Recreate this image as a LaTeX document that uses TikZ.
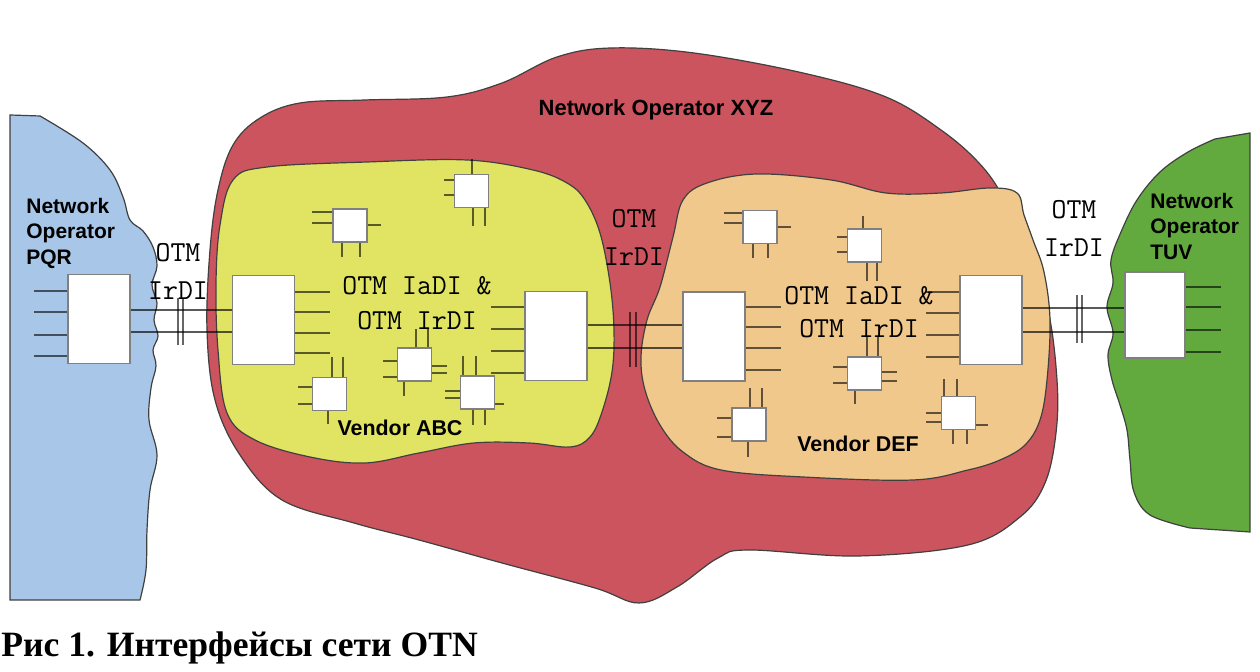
\documentclass[tikz,border=0pt]{standalone}
\usepackage{fontspec}
\setmainfont{Liberation Serif}
\setsansfont{Liberation Sans}
\definecolor{blueC}{RGB}{168,198,232}
\definecolor{redC}{RGB}{204,84,94}
\definecolor{yellowC}{RGB}{224,228,98}
\definecolor{peachC}{RGB}{240,200,140}
\definecolor{greenC}{RGB}{98,170,62}
\begin{document}
\begin{tikzpicture}[x=0.5pt,y=-0.5pt,
  cloudline/.style={draw=black!75, line width=0.6pt},
  bigbox/.style={draw=black!50, fill=white, line width=0.7pt, minimum width=31pt, minimum height=44.5pt, inner sep=0pt},
  chip/.style={draw=black!50, fill=white, line width=0.7pt, minimum width=17pt, minimum height=16.5pt, inner sep=0pt},
  pin/.style={draw=black, draw opacity=0.6, line width=1.1pt},
  link/.style={draw=black, draw opacity=0.65, line width=0.8pt},
  tickmark/.style={draw=black, draw opacity=0.6, line width=0.6pt},
  lbl/.style={font=\sffamily\bfseries\fontsize{10.5}{12.6}\selectfont, align=left, inner sep=0pt},
  vlbl/.style={font=\sffamily\bfseries\fontsize{10.7}{12.5}\selectfont, inner sep=0pt},
  mono/.style={font=\ttfamily\fontsize{14.5}{19}\selectfont, align=center, inner sep=0pt}
]
\useasboundingbox[fill=white] (0,0) rectangle (1260,672);

% ---------- clouds ----------
\path[fill=redC, cloudline] plot[smooth cycle, tension=0.6] coordinates {
 (207,330) (210,250) (218,190) (233,145) (260,118) (300,103) (365,100) (447,97)
 (502,83) (557,57) (611,48) (694,53) (803,73) (886,97) (941,130) (979,163)
 (1003,197) (1027,250) (1048,310) (1057,380) (1056,433) (1045,483) (1020,517)
 (968,545) (858,556) (749,550) (718,558) (677,587) (639,603) (595,588) (502,563)
 (419,540) (354,523) (282,500) (240,455) (215,400)};

\path[fill=yellowC, cloudline] plot[smooth cycle, tension=0.6] coordinates {
 (233,180) (267,167) (367,162) (467,160) (533,170) (567,183) (585,200) (600,233)
 (610,283) (614,330) (612,372) (602,412) (590,437) (570,447) (529,443) (474,443)
 (419,453) (365,463) (310,457) (255,440) (227,413) (218,350) (216,283) (220,225)};

\path[fill=peachC, cloudline] plot[smooth cycle, tension=0.6] coordinates {
 (683,200) (707,183) (757,174) (831,180) (886,193) (941,193) (990,188) (1017,193)
 (1024,215) (1033,240) (1044,272) (1050,320) (1047,380) (1040,420) (1025,445)
 (1000,460) (968,470) (913,480) (803,477) (721,470) (683,452) (660,425) (645,390)
 (641,357) (647,320) (660,287) (673,237)};

\path[fill=blueC, cloudline] (10,115) -- plot[smooth, tension=0.6] coordinates {
 (40,116) (83,143) (110,170) (123,197) (130,220) (143,231) (153,247) (157,266)
 (152,285) (157,303) (154,320) (158,336) (153,350) (156,366) (151,388) (149,420)
 (157,455) (150,490) (147,530) (146,570) (140,600)} -- (10,600) -- cycle;

\path[fill=greenC, cloudline] (1250,133) -- plot[smooth, tension=0.6] coordinates {
 (1215,139) (1188,152) (1160,172) (1137,200) (1121,232) (1111,260) (1113,283)
 (1107,307) (1113,333) (1108,355) (1112,380) (1120,405) (1127,430) (1130,460)
 (1134,492) (1150,515) (1190,528)} -- (1250,532) -- cycle;

% ---------- cloud labels ----------
\node[font=\sffamily\bfseries\fontsize{11}{13}\selectfont, inner sep=0pt] (xyz) at (656,110) {Network Operator XYZ};
\node[lbl, anchor=north west] (pqrlbl) at (26,198) {Network\\Operator\\PQR};
\node[lbl, anchor=north west] (tuvlbl) at (1150,193) {Network\\Operator\\TUV};
\node[vlbl] (abclbl) at (400,428) {Vendor ABC};
\node[vlbl] (deflbl) at (858,444) {Vendor DEF};

% ---------- big boxes ----------
\node[bigbox] (pqr) at (99,319) {};
\node[bigbox] (abcL) at (263.5,320) {};
\node[bigbox] (abcR) at (556,336) {};
\node[bigbox] (defL) at (714,336.5) {};
\node[bigbox] (defR) at (991,320) {};
\node[bigbox, minimum width=30pt, minimum height=43pt] (tuv) at (1155,315) {};

% ---------- small boxes ----------
\node[chip] (a1) at (471.5,191) {};
\node[chip] (a2) at (350,225.5) {};
\node[chip] (a3) at (414.5,364.5) {};
\node[chip] (a4) at (329.5,394) {};
\node[chip] (a5) at (477.5,392.5) {};
\node[chip] (d1) at (760,227) {};
\node[chip] (d2) at (864.5,245.5) {};
\node[chip] (d3) at (864.5,373.5) {};
\node[chip] (d4) at (749,424.5) {};
\node[chip] (d5) at (958.5,413) {};

% ---------- stubs of big boxes ----------
\foreach \y in {291,312,335,356} \draw[pin] (pqr.west |- 0,\y) -- ++(-33,0);
\foreach \y in {292,312,333,353} \draw[pin] (abcL.east |- 0,\y) -- ++(35,0);
\foreach \y in {307,329,351,373} \draw[pin] (abcR.west |- 0,\y) -- ++(-33,0);
\foreach \y in {307,327,348,370} \draw[pin] (defL.east |- 0,\y) -- ++(35,0);
\foreach \y in {292,313,335,357} \draw[pin] (defR.west |- 0,\y) -- ++(-33,0);
\foreach \y in {287,307,330,352} \draw[pin] (tuv.east |- 0,\y) -- ++(35,0);

% ---------- pins of small boxes ----------
% a1
\draw[pin] (a1.north -| 472,0) -- ++(0,-15);
\foreach \y in {180,195} \draw[pin] (a1.west |- 0,\y) -- ++(-10,0);
\foreach \x in {473,485} \draw[pin] (a1.south -| \x,0) -- ++(0,18);
% a2
\foreach \y in {212,223} \draw[pin] (a2.west |- 0,\y) -- ++(-20,0);
\draw[pin] (a2.east |- 0,225) -- ++(13,0);
\foreach \x in {342,360} \draw[pin] (a2.south -| \x,0) -- ++(0,14);
% a3
\foreach \x in {416,428} \draw[pin] (a3.north -| \x,0) -- ++(0,-18);
\foreach \y in {361,377} \draw[pin] (a3.west |- 0,\y) -- ++(-14,0);
\foreach \y in {366,373} \draw[pin] (a3.east |- 0,\y) -- ++(15,0);
\draw[pin] (a3.south -| 404,0) -- ++(0,14);
% a4
\foreach \x in {332,343} \draw[pin] (a4.north -| \x,0) -- ++(0,-20);
\foreach \y in {387,404} \draw[pin] (a4.west |- 0,\y) -- ++(-14,0);
\draw[pin] (a4.south -| 328,0) -- ++(0,13);
% a5
\foreach \x in {463,476} \draw[pin] (a5.north -| \x,0) -- ++(0,-19);
\foreach \y in {391,398} \draw[pin] (a5.west |- 0,\y) -- ++(-15,0);
\draw[pin] (a5.east |- 0,404) -- ++(9,0);
\foreach \x in {473,485} \draw[pin] (a5.south -| \x,0) -- ++(0,15);
% d1
\foreach \y in {213,223} \draw[pin] (d1.west |- 0,\y) -- ++(-18,0);
\draw[pin] (d1.east |- 0,227) -- ++(13,0);
\foreach \x in {753,768} \draw[pin] (d1.south -| \x,0) -- ++(0,14);
% d2
\draw[pin] (d2.north -| 863,0) -- ++(0,-12);
\foreach \y in {237,252} \draw[pin] (d2.west |- 0,\y) -- ++(-10,0);
\foreach \x in {867,877} \draw[pin] (d2.south -| \x,0) -- ++(0,18);
% d3
\foreach \x in {867,878} \draw[pin] (d3.north -| \x,0) -- ++(0,-19);
\foreach \y in {367,383} \draw[pin] (d3.west |- 0,\y) -- ++(-14,0);
\foreach \y in {372,381} \draw[pin] (d3.east |- 0,\y) -- ++(15,0);
\draw[pin] (d3.south -| 855,0) -- ++(0,13);
% d4
\foreach \x in {750,762} \draw[pin] (d4.north -| \x,0) -- ++(0,-19);
\foreach \y in {418,437} \draw[pin] (d4.west |- 0,\y) -- ++(-14,0);
\draw[pin] (d4.south -| 748,0) -- ++(0,15);
% d5
\foreach \x in {944,957} \draw[pin] (d5.north -| \x,0) -- ++(0,-17);
\foreach \y in {413,422} \draw[pin] (d5.west |- 0,\y) -- ++(-15,0);
\draw[pin] (d5.east |- 0,425) -- ++(12,0);
\foreach \x in {953,967} \draw[pin] (d5.south -| \x,0) -- ++(0,14);

% ---------- links between operators / vendors ----------
\foreach \y in {310,332} \draw[link] (pqr.east |- 0,\y) -- (abcL.west |- 0,\y);
\foreach \y in {325,348} \draw[link] (abcR.east |- 0,\y) -- (defL.west |- 0,\y);
\foreach \y in {308,332} \draw[link] (defR.east |- 0,\y) -- (tuv.west |- 0,\y);

% double ticks
\foreach \x in {178,183} \draw[tickmark] (\x,298) -- (\x,345);
\foreach \x in {630,636} \draw[tickmark] (\x,312) -- (\x,367);
\foreach \x in {1077,1082} \draw[tickmark] (\x,295) -- (\x,343);

% ---------- interface labels ----------
\node[mono] (irL) at (178,271) {OTM\\IrDI};
\node[mono] (irM) at (634,237) {OTM\\IrDI};
\node[mono] (irR) at (1074,228) {OTM\\IrDI};
\node[mono, font=\ttfamily\fontsize{14.5}{17.5}\selectfont] (iaA) at (417,303) {OTM IaDI \&\\OTM IrDI};
\node[mono, font=\ttfamily\fontsize{14.5}{16.5}\selectfont] (iaD) at (859,312) {OTM IaDI \&\\OTM IrDI};

% ---------- caption ----------
\node[anchor=base west, inner sep=0pt, font=\rmfamily\bfseries\fontsize{17.8}{22}\selectfont] (cap) at (1,657) {Рис 1. Интерфейсы сети OTN};
\end{tikzpicture}
\end{document}
